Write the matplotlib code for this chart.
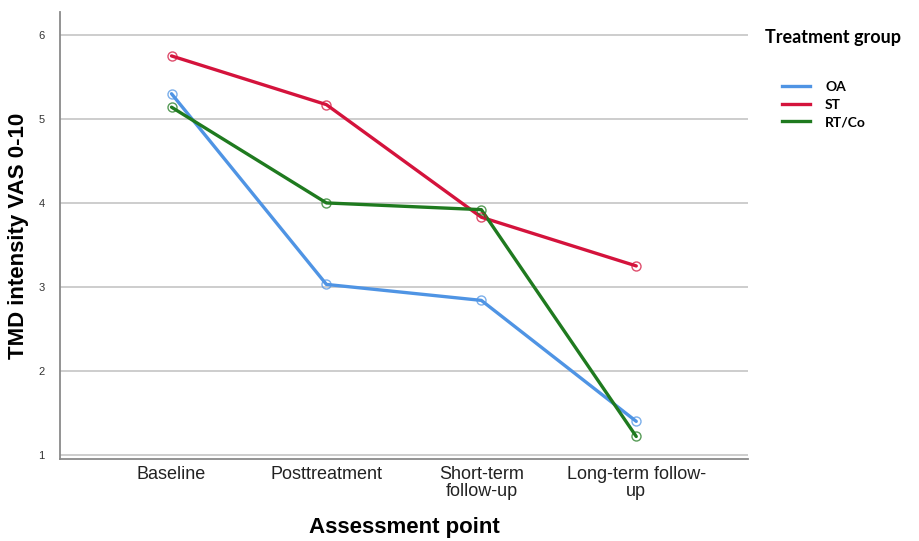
import matplotlib
matplotlib.use("Agg")
import matplotlib.pyplot as plt
from matplotlib.lines import Line2D

categories = ["Baseline", "Posttreatment", "Short-term\nfollow-up", "Long-term follow-\nup"]
groups = ["OA", "ST", "RT/Co"]
oa = [5.30, 3.03, 2.84, 1.40]
st = [5.75, 5.17, 3.83, 3.25]
rtco = [5.14, 4.00, 3.92, 1.22]
yticks = [1, 2, 3, 4, 5, 6]
colors = ["#4f94e4", "#d4133c", "#1f7a1f"]

fig = plt.figure(figsize=(9.2, 5.41), dpi=100)
ax = fig.add_axes([0.0652, 0.1516, 0.8128 - 0.0652, 0.978 - 0.1516])

x = list(range(len(categories)))
for vals, c in zip([oa, st, rtco], colors):
    ax.plot(x, vals, color=c, lw=2.4, solid_capstyle="round", zorder=3)
    ax.plot(x, vals, ls="none", marker="o", ms=6.5, mfc="none", mec=c,
            mew=1.0, alpha=0.75, zorder=4)

ax.set_xlim(-0.72, 3.72)
ax.set_ylim(0.952, 6.274)
ax.set_yticks(yticks)
ax.set_yticklabels([str(v) for v in yticks], family="Liberation Sans",
                   fontsize=8, color="#333333")
ax.set_xticks(x)
ax.set_xticklabels(categories, family="Liberation Sans", fontsize=13,
                   color="#222222", linespacing=1.0)
ax.tick_params(axis="both", length=0)
ax.tick_params(axis="y", pad=11)
ax.tick_params(axis="x", pad=5)
ax.grid(axis="y", color="#c9c9c9", lw=1.3, zorder=0)
ax.set_axisbelow(True)
for s in ["top", "right"]:
    ax.spines[s].set_visible(False)
for s in ["left", "bottom"]:
    ax.spines[s].set_color("#8a8a8a")
    ax.spines[s].set_linewidth(1.3)

ax.set_ylabel("TMD intensity VAS 0-10", family="Liberation Sans",
              fontweight="bold", fontsize=16, labelpad=7)
ax.set_xlabel("Assessment point", family="Liberation Sans",
              fontweight="bold", fontsize=16, labelpad=12)

fig.text(765 / 920, 1 - 38 / 541, "Treatment group", family="Lato",
         fontweight="bold", fontsize=13, ha="left", va="center")

handles = [Line2D([0], [0], color=c, lw=2.4) for c in colors]
leg = fig.legend(handles, groups, loc="upper left",
                 bbox_to_anchor=(782 / 920, 1 - 81 / 541), frameon=False,
                 borderpad=0, borderaxespad=0, handlelength=2.0,
                 handletextpad=1.1, labelspacing=0.4,
                 prop={"family": "Lato", "weight": "bold", "size": 10})

fig.savefig("out.png", dpi=100)
